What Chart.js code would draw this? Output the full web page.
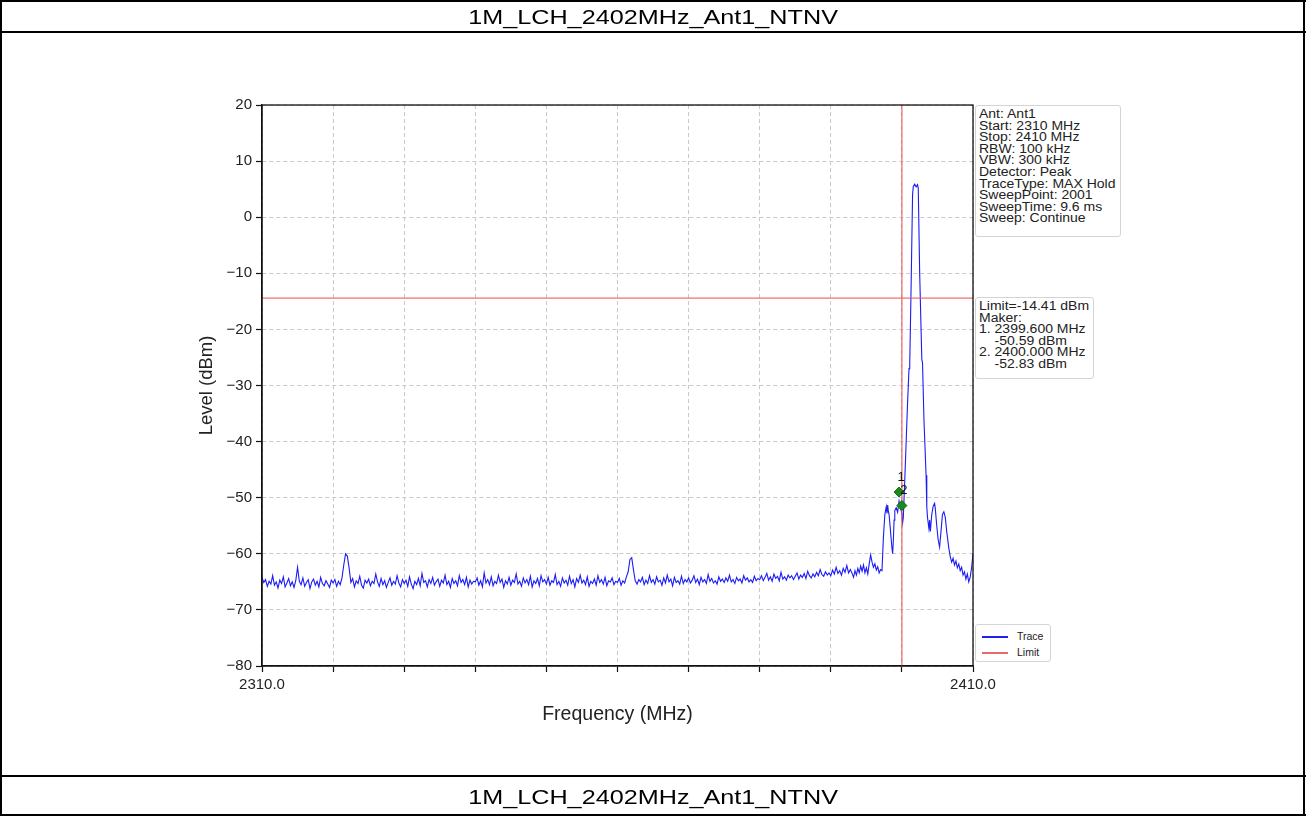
<!DOCTYPE html>
<html><head><meta charset="utf-8">
<script src="https://cdn.jsdelivr.net/npm/chart.js@4.4.0/dist/chart.umd.min.js"></script>
<style>
html,body{margin:0;padding:0;background:#fff;width:1306px;height:816px;overflow:hidden;font-family:"Liberation Sans",Arial,sans-serif;}
#wrap{position:relative;width:1306px;height:816px;}
.ln{position:absolute;background:#000;}
.ttl{position:absolute;left:0;width:1306px;text-align:center;color:#000;}
.ttl span{display:inline-block;font-size:21px;line-height:24px;transform:scaleX(1.2);}
canvas{position:absolute;left:0;top:0;}
.box{position:absolute;border:1px solid #d4d4d4;border-radius:3px;background:#fff;box-sizing:border-box;padding:3px 0 0 3px;}
.box span{display:inline-block;font-size:12.5px;line-height:11.6px;color:#222;white-space:pre;transform:scaleX(1.12);transform-origin:0 0;}
.lg{position:absolute;border:1px solid #d4d4d4;border-radius:3px;background:#fff;box-sizing:border-box;font-size:10.5px;color:#222;}
.sw{position:absolute;height:1.5px;width:26px;}
.lt{position:absolute;line-height:12px;}
</style>
</head><body>
<div id="wrap">
  <canvas id="c" width="1306" height="816"></canvas>
  <div class="ln" style="left:0;top:0;width:1306px;height:2px"></div>
  <div class="ln" style="left:0;top:31px;width:1306px;height:2px"></div>
  <div class="ln" style="left:0;top:775px;width:1306px;height:2px"></div>
  <div class="ln" style="left:0;top:814px;width:1306px;height:2px"></div>
  <div class="ln" style="left:0;top:0;width:2px;height:816px"></div>
  <div class="ln" style="left:1303px;top:0;width:2px;height:816px"></div>
  <div class="ttl" style="top:5px"><span>1M_LCH_2402MHz_Ant1_NTNV</span></div>
  <div class="ttl" style="top:785px"><span>1M_LCH_2402MHz_Ant1_NTNV</span></div>
  <div class="box" style="left:975px;top:105px;width:146px;height:132px"><span>Ant: Ant1
Start: 2310 MHz
Stop: 2410 MHz
RBW: 100 kHz
VBW: 300 kHz
Detector: Peak
TraceType: MAX Hold
SweepPoint: 2001
SweepTime: 9.6 ms
Sweep: Continue</span></div>
  <div class="box" style="left:975px;top:297px;width:119px;height:82px"><span>Limit=-14.41 dBm
Maker:
1. 2399.600 MHz
    -50.59 dBm
2. 2400.000 MHz
    -52.83 dBm</span></div>
  <div class="lg" style="left:975px;top:624px;width:76px;height:38px">
    <div class="sw" style="left:6px;top:11px;background:#2020f0"></div>
    <div class="lt" style="left:41px;top:5px">Trace</div>
    <div class="sw" style="left:6px;top:27px;background:#e86a6a"></div>
    <div class="lt" style="left:41px;top:21px">Limit</div>
  </div>
</div>
<script>
// Sweep settings
const floorStart = 2310;
const floorStep = 0.25;
// Noise floor levels (dBm), 2310.00 .. 2392.75 MHz in 0.25 MHz steps
const floorLevels = [
 -64.2,-65.1,-64.6,-65.8,-64.9,-65.4,-63.9,-65.6,-65.0,-66.1,-64.7,-65.3,-64.1,-65.9,-65.2,-64.4,-65.7,-65.0,-66.0,-64.8,
 -62.4,-64.9,-65.5,-64.3,-65.8,-65.1,-64.6,-66.2,-65.0,-64.5,-65.6,-64.9,-65.9,-64.2,-65.3,-65.7,-64.8,-65.4,-66.0,-64.7,
 -65.2,-64.6,-65.8,-64.9,-65.5,-64.3,-62.0,-60.0,-60.4,-62.5,-65.1,-64.4,-65.9,-64.8,-65.3,-64.0,-65.6,-66.1,-64.7,-65.2,
 -64.5,-65.7,-64.9,-65.3,-63.6,-65.0,-65.8,-64.4,-65.5,-64.8,-66.0,-65.1,-64.3,-65.6,-64.9,-65.4,-63.9,-65.2,-65.9,-64.6,
 -65.3,-64.7,-65.8,-64.1,-65.4,-66.2,-64.9,-65.5,-64.4,-65.7,-63.5,-65.1,-64.8,-65.9,-64.6,-65.3,-64.2,-65.6,-65.0,-64.5,
 -65.8,-64.7,-65.2,-63.8,-65.5,-64.9,-66.0,-64.4,-65.3,-64.8,-65.7,-63.9,-65.1,-64.6,-65.5,-64.2,-65.9,-64.7,-65.4,-64.9,
 -65.0,-64.3,-65.6,-64.8,-65.9,-63.4,-65.2,-64.6,-65.5,-64.1,-65.7,-64.9,-65.3,-63.8,-65.1,-64.5,-66.0,-64.8,-65.4,-64.2,
 -65.6,-64.7,-65.1,-63.6,-65.4,-64.9,-65.8,-64.3,-65.2,-64.6,-65.5,-64.0,-65.9,-64.8,-65.3,-64.4,-65.7,-63.9,-65.0,-64.6,
 -65.4,-64.2,-65.6,-64.8,-65.1,-63.7,-65.5,-64.9,-65.8,-64.3,-65.2,-64.7,-65.6,-64.0,-65.3,-64.6,-65.9,-64.4,-65.1,-63.8,
 -65.2,-64.7,-65.5,-64.1,-65.8,-64.9,-65.3,-64.5,-65.6,-63.9,-65.1,-64.6,-65.4,-64.2,-65.7,-64.8,-65.0,-64.3,-65.5,-64.9,
 -65.1,-64.4,-65.6,-64.8,-65.2,-64.1,-63.2,-61.0,-60.7,-62.9,-64.8,-65.4,-64.6,-65.0,-64.2,-65.5,-64.7,-65.3,-63.9,-65.1,
 -64.6,-65.4,-64.1,-65.0,-64.7,-65.6,-64.3,-65.2,-63.8,-65.0,-64.5,-65.7,-64.2,-65.1,-64.8,-65.4,-64.0,-65.3,-64.6,-65.0,
 -64.3,-65.2,-64.7,-63.9,-65.1,-64.5,-65.5,-64.2,-65.0,-64.6,-65.3,-63.7,-64.9,-64.4,-65.2,-64.8,-65.4,-64.1,-64.9,-64.5,
 -65.1,-64.3,-64.9,-63.8,-65.0,-64.6,-65.3,-64.2,-64.8,-64.5,-65.2,-63.9,-64.7,-64.3,-65.0,-64.6,-65.1,-64.0,-64.8,-64.4,
 -64.6,-63.9,-64.8,-64.2,-63.5,-64.7,-64.1,-64.9,-63.6,-64.4,-64.0,-64.8,-63.3,-64.5,-64.1,-64.7,-63.8,-64.3,-63.9,-64.6,
 -64.0,-63.4,-64.5,-63.8,-64.2,-63.5,-64.4,-63.1,-63.9,-64.3,-63.6,-64.1,-63.3,-63.9,-62.8,-63.7,-64.0,-63.2,-63.8,-63.4,
 -63.9,-62.9,-63.6,-62.4,-63.5,-63.0,-63.8,-62.6,-63.3,-62.1,-63.4,-62.8
];
// Signal region (MHz / dBm)
const peakFreqs = [
 2393.0,2393.2,2393.4,2393.6,2393.8,2394.0,2394.2,2394.4,2394.6,2394.8,
 2395.0,2395.2,2395.4,2395.6,2395.8,2396.0,2396.2,2396.4,2396.6,2396.8,
 2397.0,2397.2,2397.4,2397.6,2397.8,2397.9,2398.0,2398.1,2398.2,2398.4,
 2398.6,2398.7,2398.8,2398.9,2399.0,2399.2,2399.4,2399.6,2399.8,2400.0,
 2400.1,2400.2,2400.4,2400.6,2400.8,2401.0,2401.1,2401.3,2401.5,2401.6,
 2401.8,2402.0,2402.2,2402.3,2402.5,2402.8,2402.9,2403.1,2403.4,2403.5,
 2403.6,2403.8,2403.9,2404.0,2404.2,2404.4,2404.6,2404.7,2404.9,2405.1,
 2405.3,2405.5,2405.7,2405.9,2406.1,2406.3,2406.6,2406.8,2407.0,2407.2,
 2407.4,2407.6,2407.8,2408.0,2408.2,2408.4,2408.6,2408.8,2409.0,2409.2,
 2409.4,2409.6,2409.8,2410.0
];
const peakLevels = [
 -63.5,-64.2,-63.0,-63.8,-62.6,-63.4,-62.2,-63.1,-62.0,-63.4,
 -62.5,-63.6,-61.8,-60.2,-61.5,-62.4,-61.8,-62.9,-62.3,-63.4,
 -62.8,-63.0,-57.0,-53.0,-51.6,-52.8,-51.3,-52.5,-53.0,-56.0,
 -59.0,-60.0,-57.5,-54.0,-52.3,-51.8,-52.6,-50.6,-51.8,-52.8,
 -54.5,-53.5,-47.0,-40.0,-33.0,-27.0,-26.3,-12.0,4.0,5.5,
 5.9,5.4,5.8,5.2,-10.0,-25.3,-26.0,-36.0,-46.0,-51.6,
 -53.5,-55.5,-54.0,-56.0,-53.0,-51.5,-51.0,-52.0,-55.0,-57.5,
 -58.8,-56.0,-53.0,-52.5,-53.5,-56.0,-59.0,-60.5,-61.5,-60.8,
 -62.0,-61.3,-62.5,-61.8,-63.0,-62.4,-63.8,-63.2,-64.5,-63.6,
 -65.0,-64.2,-62.5,-60.0
];
const limitLevel = -14.41;
const limitFreqs = [2310, 2410];
const markerLineFreq = 2400;
const levelRange = [-80, 20];
const markerNames = ['1', '2'];
const markerFreqs = [2399.6, 2400.0];
const markerLevels = [-49.0, -51.4];
const xTickLabels = {2310: '2310.0', 2410: '2410.0'};

const tracePts = floorLevels.map((v, i) => ({x: floorStart + i * floorStep, y: v}))
  .concat(peakFreqs.map((f, i) => ({x: f, y: peakLevels[i]})));
const limitPts = limitFreqs.map(f => ({x: f, y: limitLevel}));
const vlinePts = levelRange.map(v => ({x: markerLineFreq, y: v}));
const markerPts = markerFreqs.map((f, i) => ({x: f, y: markerLevels[i]}));

const FONT = '"Liberation Sans", Arial, sans-serif';
const RED = 'rgba(232,90,90,0.85)';

const framePlugin = {
  id: 'frame',
  afterDatasetsDraw(chart) {
    const {ctx, chartArea: a, scales: {x, y}} = chart;
    ctx.save();
    ctx.strokeStyle = '#111';
    ctx.lineWidth = 1.3;
    ctx.strokeRect(a.left, a.top, a.right - a.left, a.bottom - a.top);
    ctx.fillStyle = '#111';
    ctx.font = '13px ' + FONT;
    ctx.textAlign = 'center';
    ctx.textBaseline = 'middle';
    markerNames.forEach((n, i) => {
      ctx.fillText(n, x.getPixelForValue(markerFreqs[i]) + 2, y.getPixelForValue(markerLevels[i]) - 15);
    });
    ctx.restore();
  }
};

new Chart(document.getElementById('c'), {
  type: 'scatter',
  data: {
    datasets: [
      {label: 'Marker', data: markerPts, showLine: false, pointStyle: 'rectRot', pointRadius: 5,
       backgroundColor: '#1a8a1a', borderColor: '#0c6a0c', borderWidth: 1, order: 0},
      {label: 'Limit', data: limitPts, showLine: true, pointRadius: 0, borderColor: RED, borderWidth: 1.3, order: 1},
      {label: 'Limit', data: vlinePts, showLine: true, pointRadius: 0, borderColor: RED, borderWidth: 1.3, order: 2},
      {label: 'Trace', data: tracePts, showLine: true, pointRadius: 0, borderColor: '#1c1cf5', borderWidth: 1.1, order: 3}
    ]
  },
  options: {
    responsive: false,
    animation: false,
    layout: {padding: {left: 192, top: 105, right: 333, bottom: 80}},
    plugins: {legend: {display: false}, tooltip: {enabled: false}},
    scales: {
      x: {
        type: 'linear', min: 2310, max: 2410,
        afterFit(s) { s.height = 70; },
        ticks: {stepSize: 10, autoSkip: false, maxRotation: 0, padding: 4, color: '#222',
                font: {family: FONT, size: 15},
                callback: v => xTickLabels[Math.round(v)] || ''},
        grid: {color: '#c9c9c9', tickColor: '#111', tickLength: 6, tickWidth: 1.2},
        border: {display: true, color: '#111', width: 1.3, dash: [4, 3]},
        title: {display: true, text: 'Frequency (MHz)', color: '#222',
                font: {family: FONT, size: 19.5}, padding: {top: 0, bottom: 10}}
      },
      y: {
        min: -80, max: 20,
        afterFit(s) { s.width = 70; },
        ticks: {stepSize: 10, padding: 4, color: '#222', font: {family: FONT, size: 15},
                callback: v => String(v).replace('-', '\u2212')},
        grid: {color: '#c9c9c9', tickColor: '#111', tickLength: 6, tickWidth: 1.2},
        border: {display: true, color: '#111', width: 1.3, dash: [4, 3]},
        title: {display: true, text: 'Level (dBm)', color: '#222',
                font: {family: FONT, size: 18.5}, padding: {top: 4, bottom: 0}}
      }
    }
  },
  plugins: [framePlugin]
});
</script>
</body></html>
